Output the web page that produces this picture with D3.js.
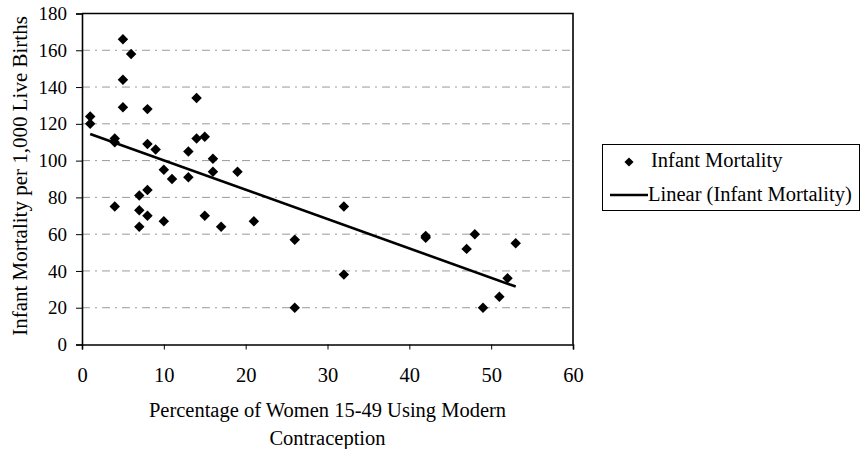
<!DOCTYPE html>
<html>
<head>
<meta charset="utf-8">
<script src="https://cdn.jsdelivr.net/npm/d3@7"></script>
<style>
  html, body { margin: 0; padding: 0; background: #fff; }
  svg { display: block; }
  text { font-family: "Liberation Serif", "Times New Roman", serif; fill: #000; }
</style>
</head>
<body>
<svg id="chart" width="865" height="449"></svg>
<script>
// ---- Data ----
const contraception = [1, 1, 4, 4, 4, 5, 5, 5, 6, 7, 7, 7, 8, 8, 8, 8, 9, 10, 10, 11, 13, 13, 14, 14, 15, 15, 16, 16, 17, 19, 21, 26, 26, 32, 32, 42, 42, 47, 48, 49, 51, 52, 53];
const mortality     = [124, 120, 112, 110, 75, 166, 144, 129, 158, 81, 73, 64, 128, 109, 84, 70, 106, 95, 67, 90, 105, 91, 134, 112, 113, 70, 101, 94, 64, 94, 67, 57, 20, 75, 38, 59, 58, 52, 60, 20, 26, 36, 55];
const trendX = [1, 53];
const trendY = [114.5, 31.5];
const xTicks = [0, 10, 20, 30, 40, 50, 60];
const yTicks = [0, 20, 40, 60, 80, 100, 120, 140, 160, 180];
const seriesName = "Infant Mortality";
const trendName = "Linear (Infant Mortality)";
const xTitle = ["Percentage of Women 15-49 Using Modern", "Contraception"];
const yTitle = "Infant Mortality per 1,000 Live Births";

// ---- Layout ----
const svg = d3.select("#chart");
const pL = 82, pR = 573, pT = 13.5, pB = 344.5;
const x = d3.scaleLinear().domain([0, 60]).range([pL, pR]);
const y = d3.scaleLinear().domain([0, 180]).range([pB, pT]);

// gridlines
svg.append("g").selectAll("line")
  .data(yTicks.filter(v => v > 0 && v < 180))
  .join("line")
  .attr("x1", pL).attr("x2", pR)
  .attr("y1", d => y(d)).attr("y2", d => y(d))
  .attr("stroke", "#9a9a9a")
  .attr("stroke-width", 1)
  .attr("stroke-dasharray", "8,5,2,5");

// frame (top/right)
svg.append("path")
  .attr("d", `M${pL},${pT}H${pR}V${pB}`)
  .attr("fill", "none").attr("stroke", "#000").attr("stroke-width", 1.6);

// axes
const xAxis = svg.append("g").attr("transform", `translate(0,${pB})`)
  .call(d3.axisBottom(x).tickValues(xTicks).tickSize(5).tickFormat(d3.format("d")));
const yAxis = svg.append("g").attr("transform", `translate(${pL},0)`)
  .call(d3.axisLeft(y).tickValues(yTicks).tickSize(6).tickPadding(9).tickFormat(d3.format("d")));
[xAxis, yAxis].forEach(g => {
  g.select(".domain").attr("stroke", "#000").attr("stroke-width", 1.6);
  g.selectAll(".tick line").attr("stroke", "#000");
  g.selectAll(".tick text").attr("font-family", "Liberation Serif").attr("fill", "#000");
});
xAxis.selectAll(".tick text").attr("font-size", 20.5).attr("dy", null).attr("y", 37.5);
yAxis.selectAll(".tick text").attr("font-size", 19);

// trend line
const line = d3.line().x(d => x(d[0])).y(d => y(d[1]));
svg.append("path")
  .attr("d", line(d3.zip(trendX, trendY)))
  .attr("fill", "none").attr("stroke", "#000").attr("stroke-width", 2.6);

// points (diamonds)
const diamond = d3.symbol(d3.symbolSquare, 55);
svg.append("g").selectAll("path")
  .data(d3.zip(contraception, mortality))
  .join("path")
  .attr("d", diamond)
  .attr("transform", d => `translate(${x(d[0])},${y(d[1])}) rotate(45)`)
  .attr("fill", "#000");

// axis titles
const cx = (pL + pR) / 2;
svg.append("text")
  .attr("text-anchor", "middle").attr("font-size", 20.5)
  .selectAll("tspan").data(xTitle).join("tspan")
  .attr("x", cx).attr("y", (d, i) => i === 0 ? 417 : 445)
  .text(d => d);

svg.append("text")
  .attr("transform", `translate(27,176) rotate(-90)`)
  .attr("text-anchor", "middle").attr("font-size", 21)
  .text(yTitle);

// legend
const lg = svg.append("g");
lg.append("rect").attr("x", 602.5).attr("y", 144.5).attr("width", 257).attr("height", 66)
  .attr("fill", "#fff").attr("stroke", "#000").attr("stroke-width", 1);
lg.append("path").attr("d", d3.symbol(d3.symbolSquare, 42))
  .attr("transform", "translate(629,162) rotate(45)").attr("fill", "#000");
lg.append("text").attr("x", 651).attr("y", 167).attr("font-size", 20.5).text(seriesName);
lg.append("line").attr("x1", 610).attr("x2", 648).attr("y1", 195).attr("y2", 195)
  .attr("stroke", "#000").attr("stroke-width", 2.5);
lg.append("text").attr("x", 648).attr("y", 201).attr("font-size", 20.5).text(trendName);
</script>
</body>
</html>
